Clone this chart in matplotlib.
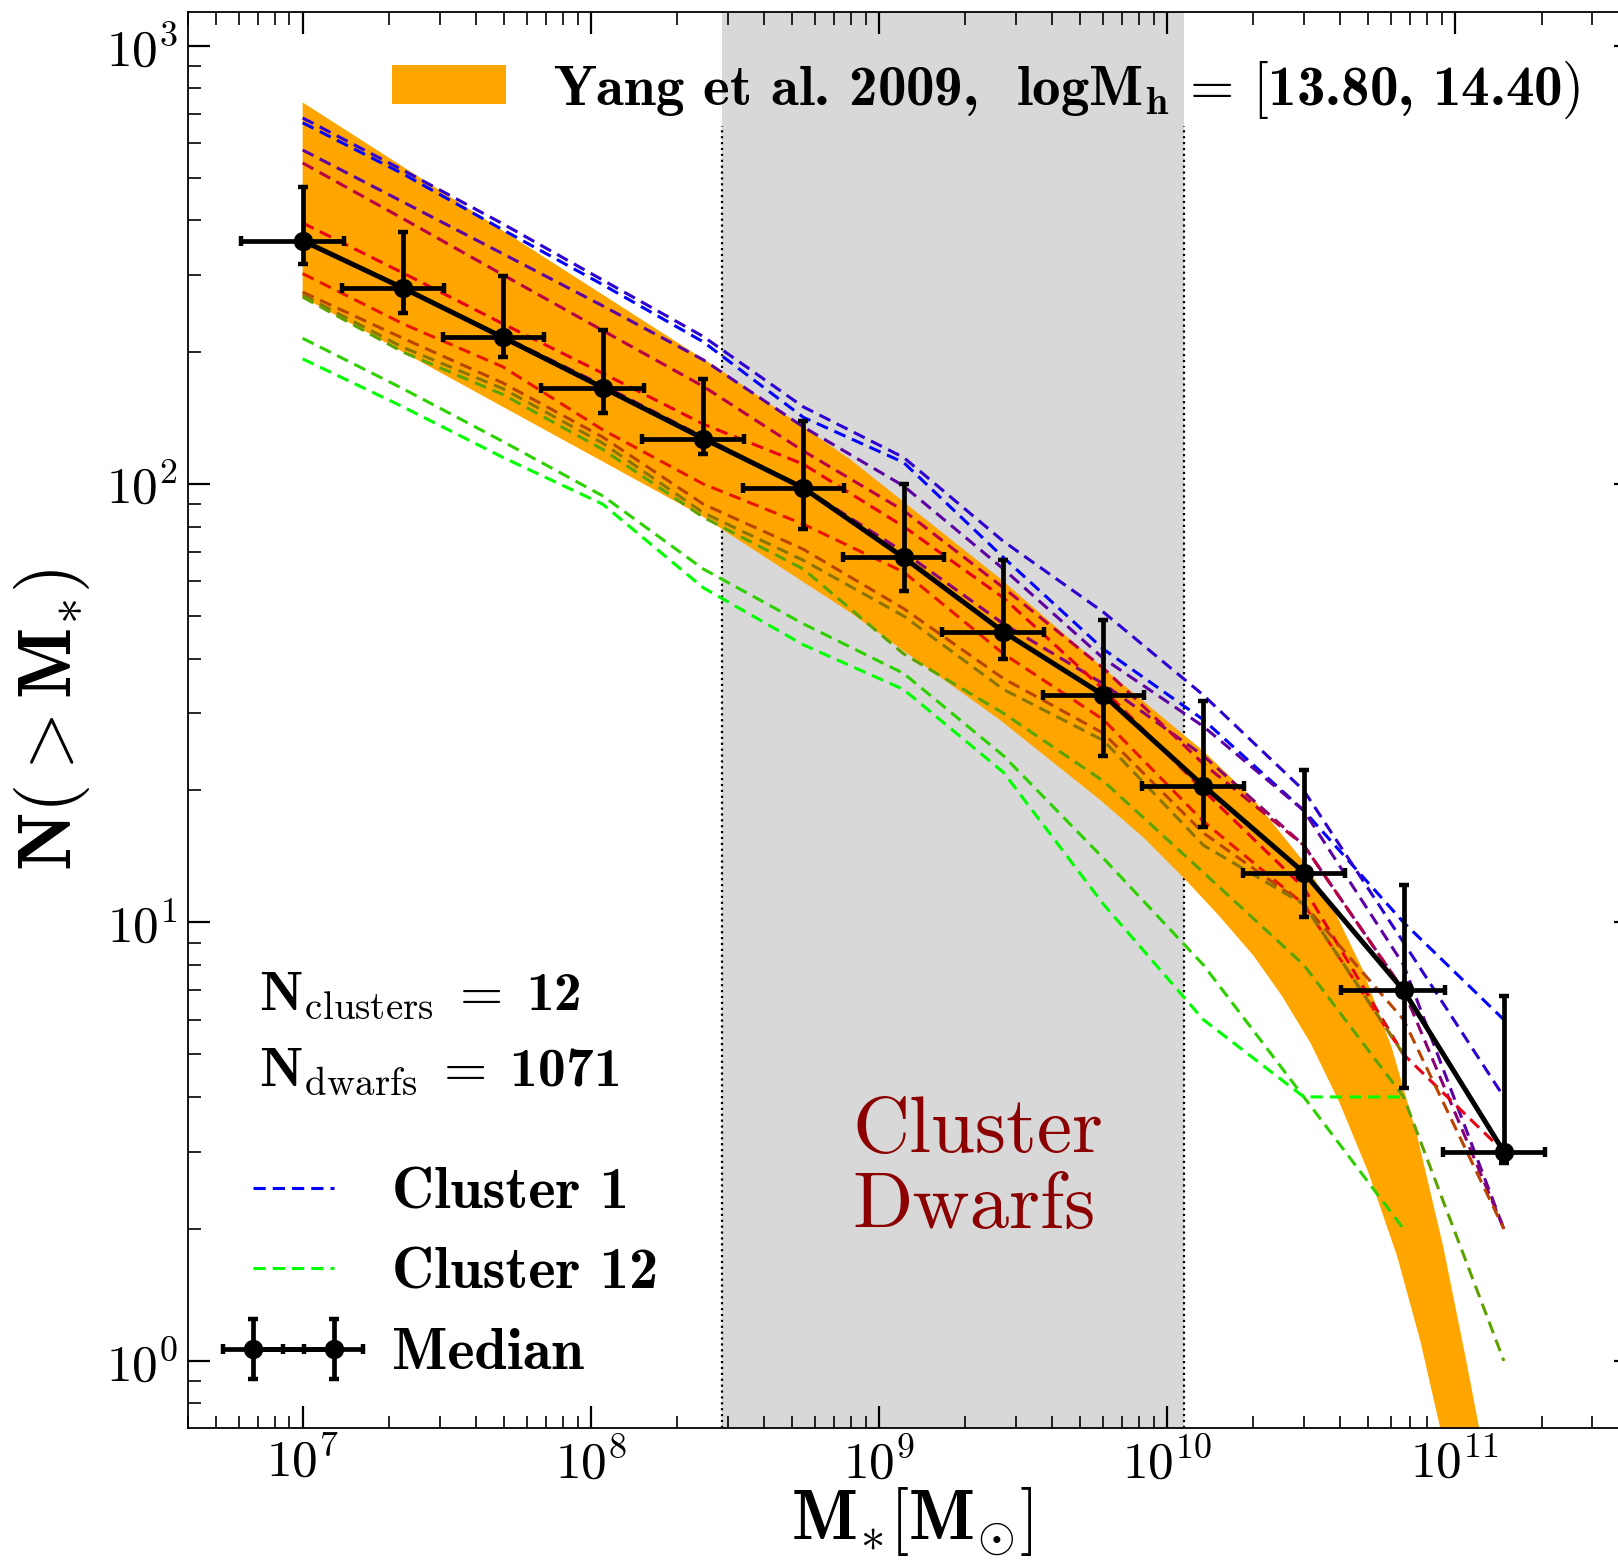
import matplotlib
matplotlib.use('Agg')
import matplotlib.pyplot as plt
import numpy as np
from matplotlib.patches import Patch
from matplotlib.lines import Line2D
from matplotlib.container import ErrorbarContainer
from matplotlib.legend_handler import HandlerErrorbar, HandlerLine2D

plt.rcParams['font.family'] = 'serif'
plt.rcParams['font.serif'] = ['cmr10']
plt.rcParams['mathtext.fontset'] = 'cm'
plt.rcParams['axes.formatter.use_mathtext'] = True

nan = np.nan

# stellar mass bins [Msun] and the median cumulative count N(>M*)
mstar = [1.00e7, 2.23e7, 4.96e7, 1.10e8, 2.46e8, 5.47e8, 1.22e9, 2.71e9,
         6.03e9, 1.34e10, 2.99e10, 6.64e10, 1.48e11]
mstar_err = [3.9e6, 8.6e6, 1.9e7, 4.3e7, 9.5e7, 2.1e8, 4.7e8, 1.05e9,
             2.3e9, 5.2e9, 1.15e10, 2.6e10, 5.7e10]
n_median = [359, 280, 216, 166, 127, 98, 68, 46, 33, 20.5, 13, 7, 3]
n_err_lo = [42, 34, 21, 21, 10, 19, 11, 6, 9, 4, 2.7, 2.8, 0.17]
n_err_hi = [117, 95, 82, 59, 47, 41, 32, 21, 16, 11.5, 9.3, 5.2, 3.8]

# N(>M*) for each of the 12 clusters on the same mass bins
cluster_counts = [
    [667, 510, 380, 285, 211, 142, 112, 68, 42, 29, 18, 10, 6],
    [684, 520, 392, 292, 217, 150, 115, 74, 51, 33, 20, 9, 4],
    [578, 440, 335, 255, 192, 135, 99, 64, 40, 28, 18, 8, 2],
    [359, 279, 217, 168, 128, 98, 70, 48, 35, 24, 15, 7, 2],
    [540, 403, 300, 224, 167, 119, 87, 58, 38, 23, 15, 7, nan],
    [394, 303, 232, 179, 137, 111, 80, 55, 34, 20, 12, 5, 3],
    [302, 232, 185, 133, 100, 81, 63, 41, 29, 17, 11, 5, nan],
    [274, 215, 170, 128, 90, 71, 52, 36, 27, 16, 11, 6, 2],
    [270, 205, 165, 124, 86, 67, 50, 34, 26, 15, 11, 5, nan],
    [267, 200, 160, 120, 84, 64, 41, 30, 21, 13, 8, 4, 1],
    [215, 165, 125, 94, 64, 48, 37, 24, 14, 8, 4, 2, nan],
    [193, 150, 115, 90, 58, 43, 34, 22, 11, 6, 4, 4, nan],
]

# Yang et al. 2009 CSMF band, logMh = [13.80, 14.40)
yang_m_hi = [1.0e7, 2.82e8, 7.94e8, 2.63e9, 5.89e9, 1.35e10, 2.0e10,
             2.95e10, 3.80e10, 4.79e10, 6.03e10, 7.41e10, 9.12e10,
             1.096e11, 1.26e11]
yang_n_hi = [742, 182, 114, 61, 38.5, 24.5, 19.1, 13.9, 10.7, 7.8, 5.2,
             3.25, 1.82, 1.0, 0.62]
yang_m_lo = [1.0e7, 2.40e8, 7.94e8, 2.63e9, 5.89e9, 8.32e9, 1.15e10,
             1.51e10, 2.0e10, 2.51e10, 3.16e10, 3.98e10, 5.01e10, 6.31e10,
             7.59e10, 8.91e10, 9.55e10]
yang_n_lo = [267, 85, 51, 29, 19, 15.6, 12.6, 10.4, 8.4, 6.8, 5.3, 3.88,
             2.69, 1.73, 1.11, 0.70, 0.56]

# cluster-dwarf stellar mass range
dwarf_lo, dwarf_hi = 2.86e8, 1.15e10

fig = plt.figure(figsize=(16.18, 15.62), dpi=100)
ax = fig.add_axes([0.1162, 0.0858, 0.895, 0.9062])
ax.set_xscale('log')
ax.set_yscale('log')

ax.axvspan(dwarf_lo, dwarf_hi, color='#d8d8d8', lw=0, zorder=0)
for xv in (dwarf_lo, dwarf_hi):
    ax.axvline(xv, ymax=0.92, color='k', ls=':', lw=1.6, zorder=1)

ax.fill(np.concatenate([yang_m_hi, yang_m_lo[::-1]]),
        np.concatenate([yang_n_hi, yang_n_lo[::-1]]),
        color='orange', lw=0, zorder=2)

dash = (0, (4, 2.3))
colors = plt.cm.brg(np.linspace(0, 1, len(cluster_counts)))
for i, counts in enumerate(cluster_counts):
    ax.plot(mstar, counts, color=colors[i], lw=2.2, ls=dash, zorder=3)

med = ax.errorbar(mstar, n_median, xerr=mstar_err, yerr=[n_err_lo, n_err_hi],
                  color='k', lw=3.6, elinewidth=3.4, capsize=3.8, capthick=3.2,
                  marker='o', ms=13, zorder=5)

ax.set_xlim(4.0e6, 4.26e11)
ax.set_ylim(0.703, 1190)

ax.tick_params(which='both', direction='in', top=True, right=True)
ax.tick_params(which='major', length=16, width=1.6, labelsize=37, pad=7)
ax.tick_params(which='minor', length=9, width=1.2)
for s in ax.spines.values():
    s.set_linewidth(1.3)

ax.set_xlabel(r'$\mathbf{M_{*}[M_{\odot}]}$', fontsize=50, labelpad=-2)
ax.set_ylabel(r'$\mathbf{N(>M_{*})}$', fontsize=54, labelpad=10)

yang_label = r'Yang et al. 2009,  logM$_\mathbf{h}\,=\,[$13.80, 14.40$)$'
leg1 = ax.legend(handles=[Patch(color='orange', lw=0)], labels=[yang_label],
                 loc='center left', bbox_to_anchor=(0.1409, 0.945), frameon=False,
                 prop={'family': 'cmb10', 'size': 41},
                 handlelength=2.0, handleheight=0.68, handletextpad=0.82,
                 borderaxespad=0, borderpad=0)
ax.add_artist(leg1)

h1 = Line2D([], [], color=colors[0], lw=2.2, ls=dash)
h12 = Line2D([], [], color=colors[-1], lw=2.2, ls=dash)
ax.legend(handles=[h1, h12, med], labels=['Cluster 1', 'Cluster 12', 'Median'],
          loc='center left', bbox_to_anchor=(0.0449, 0.1086), frameon=False,
          prop={'family': 'cmb10', 'size': 42},
          handlelength=1.38, handletextpad=1.0, labelspacing=0.47,
          borderaxespad=0, borderpad=0, numpoints=2,
          handler_map={Line2D: HandlerLine2D(marker_pad=0),
                       ErrorbarContainer: HandlerErrorbar(marker_pad=0, xerr_size=0.51)})

ax.text(0.049, 0.2953, r'N$_{\rm clusters}\;=\;$12', transform=ax.transAxes,
        family='cmb10', fontsize=40, va='baseline', ha='left')
ax.text(0.049, 0.2416, r'N$_{\rm dwarfs}\;=\;$1071', transform=ax.transAxes,
        family='cmb10', fontsize=40, va='baseline', ha='left')

ax.text(0.4586, 0.195, 'Cluster', transform=ax.transAxes, color='#8b0000',
        fontsize=57, va='baseline', ha='left')
ax.text(0.4586, 0.1413, 'Dwarfs', transform=ax.transAxes, color='#8b0000',
        fontsize=57, va='baseline', ha='left')

fig.savefig('out.png', dpi=100)
